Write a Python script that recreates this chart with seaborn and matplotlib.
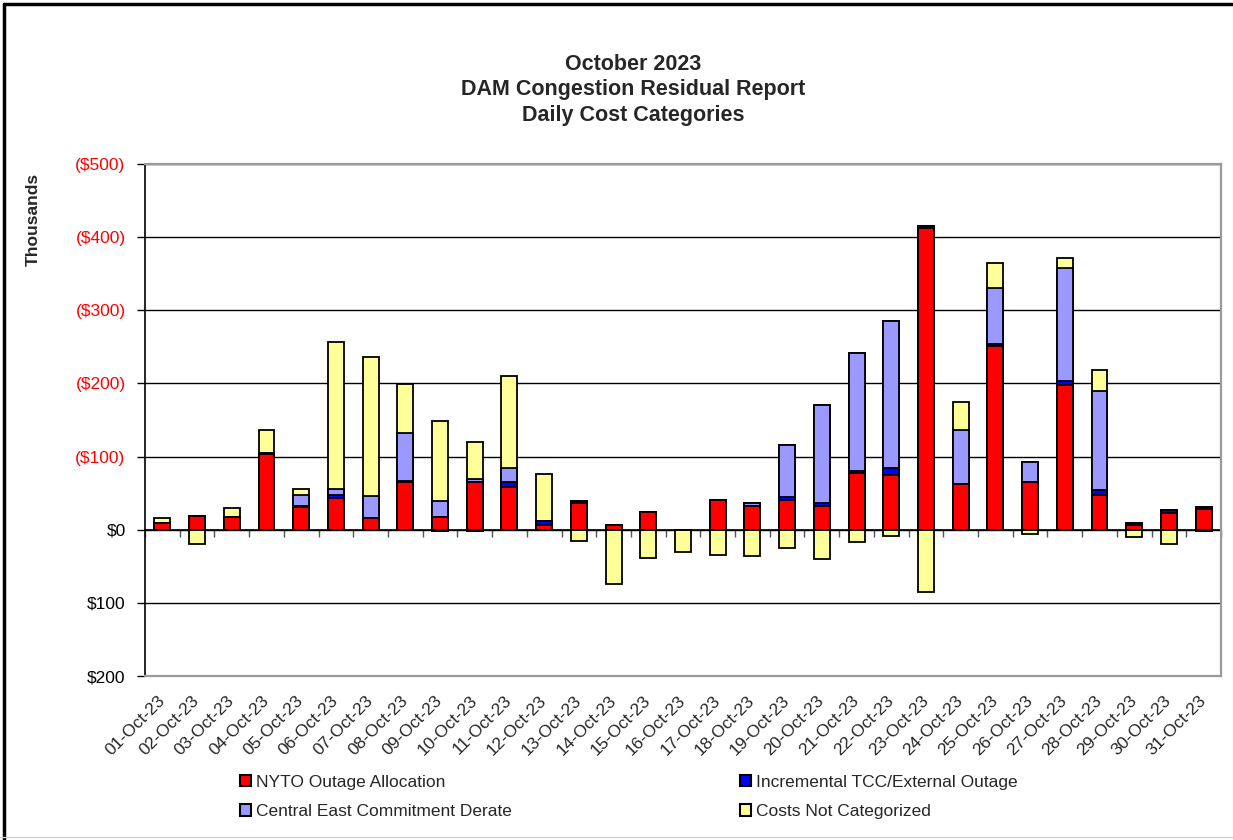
import numpy as np
import matplotlib
matplotlib.use("Agg")
import matplotlib.pyplot as plt
from matplotlib.patches import Patch
from matplotlib.lines import Line2D
from matplotlib.ticker import FuncFormatter, MultipleLocator
import seaborn as sns

# Daily congestion residual by cost category, in $ thousands (positive = cost)
days = [
    "01-Oct-23", "02-Oct-23", "03-Oct-23", "04-Oct-23", "05-Oct-23", "06-Oct-23",
    "07-Oct-23", "08-Oct-23", "09-Oct-23", "10-Oct-23", "11-Oct-23", "12-Oct-23",
    "13-Oct-23", "14-Oct-23", "15-Oct-23", "16-Oct-23", "17-Oct-23", "18-Oct-23",
    "19-Oct-23", "20-Oct-23", "21-Oct-23", "22-Oct-23", "23-Oct-23", "24-Oct-23",
    "25-Oct-23", "26-Oct-23", "27-Oct-23", "28-Oct-23", "29-Oct-23", "30-Oct-23",
    "31-Oct-23",
]
nyto_outage = [9, 19, 18, 104, 31, 44, 16, 65, 18, 65, 58, 7,
               36, 6, 24, 0, 41, 33, 41, 33, 77, 75, 412, 62,
               251, 65, 198, 47, 6, 23, 29]
incremental_tcc = [0, 0, 0, 1, 1, 3, 0, 1, -2, -2, 7, 5,
                   3, 1, 0, 0, 0, 0, 4, 3, 3, 9, 3, 1,
                   3, 0, 6, 7, 3, 4, 2]
central_east = [0, 0, 0, 0, 15, 9, 30, 66, 21, 5, 19, 0,
                0, 0, 0, 0, 0, 4, 71, 135, 161, 202, 0, 74,
                76, 27, 154, 136, 0, 0, -2]
not_categorized = [7, -19, 12, 32, 9, 200, 190, 67, 109, 50, 126, 64,
                   -16, -74, -38, -31, -34, -36, -25, -40, -17, -8, -85, 38,
                   35, -6, 14, 29, -10, -19, 0]

series_names = ["NYTO Outage Allocation", "Incremental TCC/External Outage",
                "Central East Commitment Derate", "Costs Not Categorized"]
series_colors = ["#FF0000", "#0000FF", "#9999FF", "#FFFF99"]

W, H = 1233, 840
sns.set_style("white")
plt.rcParams["font.family"] = ["Liberation Sans", "DejaVu Sans"]

fig = plt.figure(figsize=(W / 100, H / 100), dpi=100)
ax = fig.add_axes([145 / W, 1 - 676 / H, (1221 - 145) / W, (676 - 164) / H])

# Stack positive parts upward and negative parts downward, as separate stacks
vals = np.array([nyto_outage, incremental_tcc, central_east, not_categorized], dtype=float)
pos_cum = np.cumsum(np.clip(vals, 0, None), axis=0)
neg_cum = np.cumsum(np.clip(vals, None, 0), axis=0)

bar_kw = dict(order=days, saturation=1, width=0.46, edgecolor="black",
              linewidth=1.3, errorbar=None, ax=ax, zorder=3)
for cum in (pos_cum, neg_cum):
    # draw the tallest cumulative layer first so lower layers sit on top
    for i in reversed(range(4)):
        sns.barplot(x=days, y=cum[i], color=series_colors[i], **bar_kw)

ax.set_xlim(-0.5, len(days) - 0.5)
ax.set_ylim(-200, 500)
ax.set_xlabel("")
ax.set_ylabel("")

# horizontal gridlines
ax.set_axisbelow(True)
ax.yaxis.set_major_locator(MultipleLocator(100))
ax.yaxis.grid(True, color="black", linewidth=1.0)
ax.xaxis.grid(False)


def money(v, _pos=None):
    v = int(round(v))
    if v > 0:
        return f"(${v})"
    if v < 0:
        return f"${-v}"
    return "$0"


ax.yaxis.set_major_formatter(FuncFormatter(money))
ax.tick_params(axis="y", direction="out", length=6, width=1, color="black",
               labelsize=12.5, pad=8, left=True)
fig.canvas.draw()
for lab in ax.get_yticklabels():
    txt = lab.get_text()
    lab.set_color("#FF0000" if txt.startswith("(") else "black")

ax.set_xticks(range(len(days)))
ax.set_xticklabels(days, rotation=45, ha="right", va="center",
                   rotation_mode="anchor", fontsize=12.5)
ax.tick_params(axis="x", length=0, pad=16)

for side in ("top", "right", "bottom"):
    ax.spines[side].set_color("#9a9a9a")
    ax.spines[side].set_linewidth(1.6)
ax.spines["left"].set_color("black")
ax.spines["left"].set_linewidth(1.2)

# zero line with category-boundary tick marks
zero_frac = (0 - (-200)) / 700
zax = ax.secondary_xaxis(zero_frac)
zax.set_xticks(np.arange(-0.5, len(days), 1.0))
zax.set_xticklabels([])
zax.tick_params(direction="out", length=5, width=1, color="#555555")
zax.spines["bottom"].set_color("black")
zax.spines["bottom"].set_linewidth(1.2)

# titles
fig.text(633 / W, 1 - 90 / H,
         "October 2023\nDAM Congestion Residual Report\nDaily Cost Categories",
         ha="center", va="center", fontsize=15.5, fontweight="bold",
         linespacing=1.3)
fig.text(33 / W, 1 - 219 / H, "Thousands", rotation=90, ha="center",
         va="center", fontsize=12.5, fontweight="bold")

# legend in two columns
handles = [Patch(facecolor=c, edgecolor="black", linewidth=1.5)
           for c in series_colors]
leg_kw = dict(frameon=False, fontsize=12.5, handlelength=0.65,
              handleheight=0.65, handletextpad=0.25, labelspacing=0.85,
              borderaxespad=0, borderpad=0, loc="center left")
fig.legend([handles[0], handles[2]], [series_names[0], series_names[2]],
           bbox_to_anchor=(240 / W, 1 - 797 / H), **leg_kw)
fig.legend([handles[1], handles[3]], [series_names[1], series_names[3]],
           bbox_to_anchor=(740 / W, 1 - 797 / H), **leg_kw)

# outer chart border
fig.add_artist(Line2D([4 / W, 4 / W], [0, 1 - 4 / H], transform=fig.transFigure,
                      color="black", linewidth=2.5))
fig.add_artist(Line2D([4 / W, 1], [1 - 4 / H, 1 - 4 / H], transform=fig.transFigure,
                      color="black", linewidth=2.5))
fig.add_artist(Line2D([0, 1], [3 / H, 3 / H], transform=fig.transFigure,
                      color="#d0d0d0", linewidth=1.0))

fig.savefig("out.png", dpi=100, facecolor="white")
